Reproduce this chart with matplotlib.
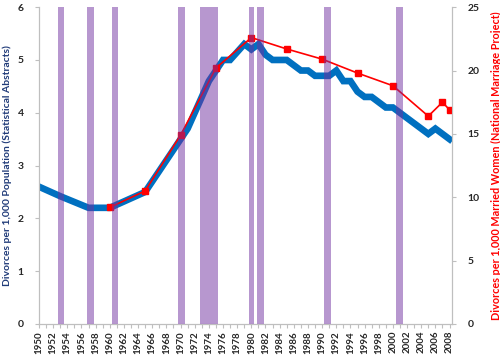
import matplotlib
matplotlib.use("Agg")
import matplotlib.pyplot as plt

plt.rcParams['font.family'] = ['Lato', 'DejaVu Sans']

# divorces per 1,000 population (Statistical Abstracts)
pop_years = [1950, 1953, 1957, 1960, 1965, 1970, 1971, 1972, 1973, 1974, 1975,
             1976, 1977, 1978, 1979, 1980, 1981, 1982, 1983, 1984, 1985, 1986,
             1987, 1988, 1989, 1990, 1991, 1992, 1993, 1994, 1995, 1996, 1997,
             1998, 1999, 2000, 2001, 2002, 2003, 2004, 2005, 2006, 2007, 2008]
pop_rate = [2.6, 2.42, 2.2, 2.2, 2.5, 3.5, 3.7, 4.0, 4.3, 4.6, 4.8,
            5.0, 5.0, 5.15, 5.3, 5.2, 5.3, 5.1, 5.0, 5.0, 5.0, 4.9,
            4.8, 4.8, 4.7, 4.7, 4.7, 4.8, 4.6, 4.6, 4.4, 4.3, 4.3,
            4.2, 4.1, 4.1, 4.0, 3.9, 3.8, 3.7, 3.6, 3.7, 3.6, 3.5]

# divorces per 1,000 married women (National Marriage Project)
nmp_years = [1960, 1965, 1970, 1975, 1980, 1985, 1990, 1995, 2000, 2005, 2007, 2008]
nmp_rate = [9.2, 10.5, 14.9, 20.2, 22.6, 21.7, 20.9, 19.8, 18.8, 16.4, 17.5, 16.9]

# recession shading (start, end) in years
recessions = [(1952.65, 1953.6), (1956.8, 1957.75), (1960.3, 1961.2),
              (1969.7, 1970.65), (1972.8, 1975.3), (1979.6, 1980.4),
              (1980.8, 1981.75), (1990.3, 1991.3), (2000.5, 2001.4)]

years = list(range(1950, 2009))
year_labels = [str(y) if y % 2 == 0 else '' for y in years]

fig = plt.figure(figsize=(5.0, 3.58), dpi=100)
ax = fig.add_axes([0.078, 0.095, 0.826, 0.885])
ax2 = ax.twinx()

ax.plot(pop_years, pop_rate, color='#0070C0', lw=4.8, solid_joinstyle='miter', zorder=2)
ax2.plot(nmp_years, nmp_rate, color='#FF0000', lw=1.2, marker='s', ms=4.5, zorder=2)

# recession bars sit over both lines
for start, end in recessions:
    ax2.axvspan(start, end, color='#7030A0', alpha=0.5, lw=0, zorder=5)

ax.set_xlim(1950, 2008.35)
ax.set_ylim(0, 6)
ax2.set_ylim(0, 25)
ax.set_yticks(range(0, 7))
ax2.set_yticks(range(0, 26, 5))
ax.set_xticks(years)
ax.set_xticklabels(year_labels, rotation=90, fontsize=7, fontweight='bold', color='#262626')

for a in (ax, ax2):
    a.spines['top'].set_visible(False)
    for s in ('left', 'right', 'bottom'):
        a.spines[s].set_color('#BFBFBF')
        a.spines[s].set_linewidth(0.8)
    a.tick_params(axis='both', color='#BFBFBF', length=3, width=0.8, labelsize=7.5)
    for lab in a.get_yticklabels():
        lab.set_fontweight('bold')
        lab.set_color('#262626')
ax.tick_params(axis='x', pad=2, labelsize=7)
ax.tick_params(axis='y', pad=8)
ax2.tick_params(axis='y', pad=8)

ax.set_ylabel('Divorces per 1,000 Population (Statistical Abstracts)',
              fontsize=7.5, fontweight='bold', color='#1F3A78', labelpad=4)
ax2.set_ylabel('Divorces per 1,000 Married Women (National Marriage Project)',
               fontsize=7.8, fontweight='bold', color='#FF0000', labelpad=8)

fig.savefig('out.png', dpi=100)
